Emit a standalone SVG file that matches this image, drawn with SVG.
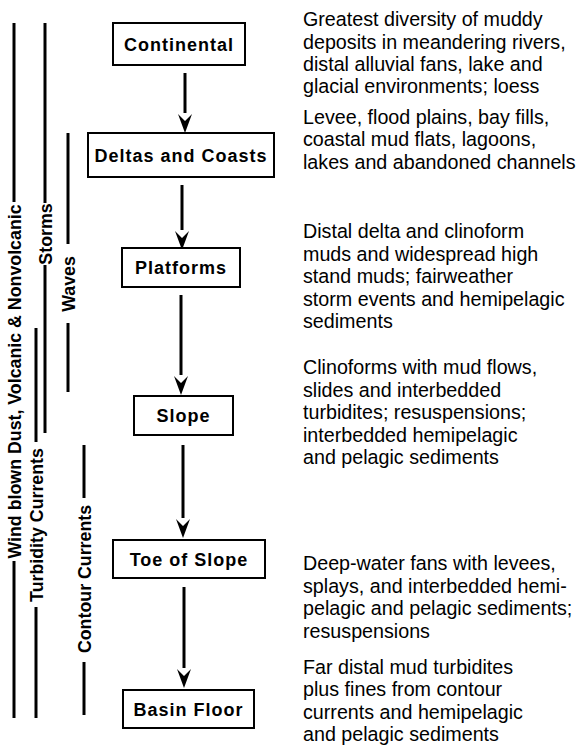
<svg xmlns="http://www.w3.org/2000/svg" width="576" height="750" viewBox="0 0 576 750">
  <style>
    .bar { stroke: #000; stroke-width: 3; fill: none; }
    .lbl { font-family: "Liberation Sans", Arial, sans-serif; font-weight: bold; font-size: 17.8px; fill: #000; }
    .box { fill: #fff; stroke: #000; stroke-width: 2; }
    .name { font-family: "Liberation Sans", Arial, sans-serif; font-weight: bold; font-size: 18px; letter-spacing: 1px; fill: #000; text-anchor: middle; }
    .arrow { stroke: #000; stroke-width: 3; fill: none; marker-end: url(#head); }
    .desc { font-family: "Liberation Sans", Arial, sans-serif; font-size: 19.7px; fill: #000; }
  </style>
  <defs>
    <!-- notched arrowhead; tip sits 10px beyond the end of the shaft -->
    <marker id="head" viewBox="-10 -8 22 16" refX="-10" refY="0" markerWidth="22" markerHeight="16" markerUnits="userSpaceOnUse" orient="auto">
      <path d="M10,0 L-9,-7 L-2,0 L-9,7 Z" fill="#000"/>
    </marker>
  </defs>

  <rect width="576" height="750" fill="#fff"/>

  <!-- process ranges along the left margin -->
  <g id="range-wind">
    <line class="bar" x1="14" y1="23" x2="14" y2="202"/>
    <line class="bar" x1="14" y1="561" x2="14" y2="718"/>
    <text class="lbl" text-anchor="middle" transform="translate(14,381.5) rotate(-90)" y="6.5">Wind blown Dust, Volcanic &amp; Nonvolcanic</text>
  </g>
  <g id="range-storms">
    <line class="bar" x1="45" y1="23" x2="45" y2="203"/>
    <line class="bar" x1="45" y1="265" x2="45" y2="433"/>
    <text class="lbl" text-anchor="middle" transform="translate(45,234) rotate(-90)" y="6.5">Storms</text>
  </g>
  <g id="range-waves">
    <line class="bar" x1="68" y1="133" x2="68" y2="244"/>
    <line class="bar" x1="68" y1="323" x2="68" y2="392"/>
    <text class="lbl" text-anchor="middle" transform="translate(68,284) rotate(-90)" y="6.5">Waves</text>
  </g>
  <g id="range-turbidity">
    <line class="bar" x1="36" y1="328" x2="36" y2="442"/>
    <line class="bar" x1="36" y1="607" x2="36" y2="718"/>
    <text class="lbl" text-anchor="middle" transform="translate(36,525) rotate(-90)" y="6.5">Turbidity Currents</text>
  </g>
  <g id="range-contour">
    <line class="bar" x1="84" y1="445" x2="84" y2="498"/>
    <line class="bar" x1="84" y1="662" x2="84" y2="715"/>
    <text class="lbl" text-anchor="middle" transform="translate(84,579) rotate(-90)" y="6.5">Contour Currents</text>
  </g>

  <!-- connectors between environments -->
  <g id="connectors">
    <line class="arrow" x1="185" y1="73" x2="185" y2="113"/>
    <line class="arrow" x1="182" y1="185" x2="182" y2="230"/>
    <line class="arrow" x1="181" y1="295" x2="181" y2="375"/>
    <line class="arrow" x1="183" y1="445" x2="183" y2="518"/>
    <line class="arrow" x1="184" y1="587" x2="184" y2="668"/>
  </g>

  <!-- environments -->
  <g id="continental">
    <rect class="box" x="113" y="23" width="132" height="42"/>
    <text class="name" x="179" y="50.5">Continental</text>
  </g>
  <g id="deltas-coasts">
    <rect class="box" x="88" y="133" width="186" height="44"/>
    <text class="name" x="181" y="161.5">Deltas and Coasts</text>
  </g>
  <g id="platforms">
    <rect class="box" x="122" y="248" width="118" height="39"/>
    <text class="name" x="181" y="274">Platforms</text>
  </g>
  <g id="slope">
    <rect class="box" x="134" y="396" width="99" height="39"/>
    <text class="name" x="183.5" y="422">Slope</text>
  </g>
  <g id="toe-of-slope">
    <rect class="box" x="113" y="540" width="152" height="38"/>
    <text class="name" x="189" y="565.5">Toe of Slope</text>
  </g>
  <g id="basin-floor">
    <rect class="box" x="123" y="690" width="131" height="38"/>
    <text class="name" x="188.5" y="715.5">Basin Floor</text>
  </g>

  <!-- deposit descriptions -->
  <text class="desc" x="303" y="26">Greatest diversity of muddy</text>
  <text class="desc" x="303" y="49">deposits in meandering rivers,</text>
  <text class="desc" x="303" y="71">distal alluvial fans, lake and</text>
  <text class="desc" x="303" y="93">glacial environments; loess</text>

  <text class="desc" x="303" y="124">Levee, flood plains, bay fills,</text>
  <text class="desc" x="303" y="146">coastal mud flats, lagoons,</text>
  <text class="desc" x="303" y="169">lakes and abandoned channels</text>

  <text class="desc" x="303" y="238">Distal delta and clinoform</text>
  <text class="desc" x="303" y="261">muds and widespread high</text>
  <text class="desc" x="303" y="283">stand muds; fairweather</text>
  <text class="desc" x="303" y="306">storm events and hemipelagic</text>
  <text class="desc" x="303" y="328">sediments</text>

  <text class="desc" x="303" y="374">Clinoforms with mud flows,</text>
  <text class="desc" x="303" y="397">slides and interbedded</text>
  <text class="desc" x="303" y="419">turbidites; resuspensions;</text>
  <text class="desc" x="303" y="442">interbedded hemipelagic</text>
  <text class="desc" x="303" y="464">and pelagic sediments</text>

  <text class="desc" x="303" y="570">Deep-water fans with levees,</text>
  <text class="desc" x="303" y="593">splays, and interbedded hemi-</text>
  <text class="desc" x="303" y="615">pelagic and pelagic sediments;</text>
  <text class="desc" x="303" y="638">resuspensions</text>

  <text class="desc" x="303" y="674">Far distal mud turbidites</text>
  <text class="desc" x="303" y="696">plus fines from contour</text>
  <text class="desc" x="303" y="719">currents and hemipelagic</text>
  <text class="desc" x="303" y="741">and pelagic sediments</text>
</svg>
